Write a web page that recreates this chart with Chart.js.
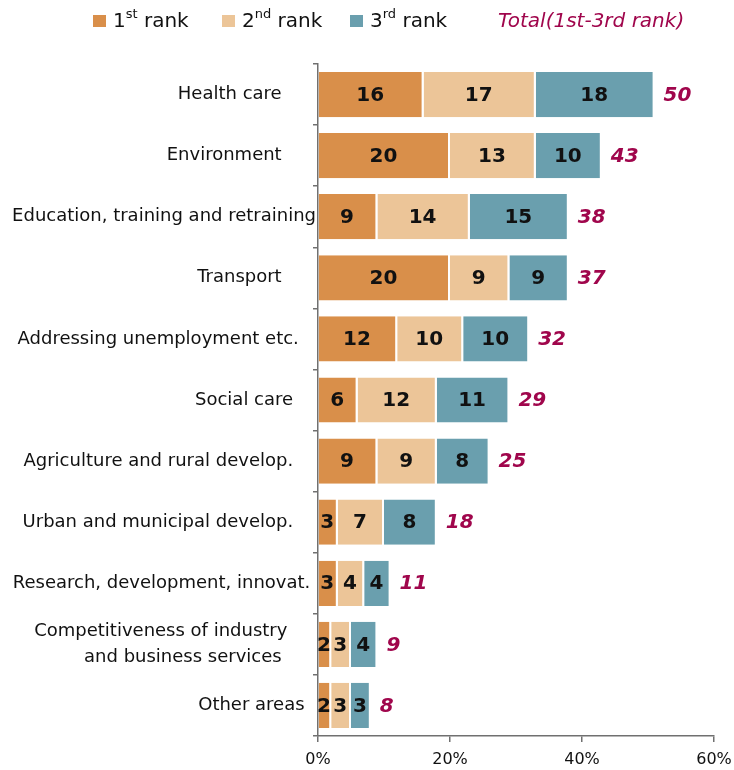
<!DOCTYPE html>
<html>
<head>
<meta charset="utf-8">
<script src="https://cdn.jsdelivr.net/npm/chart.js@4.4.1/dist/chart.umd.min.js"></script>
<style>
  html, body { margin: 0; padding: 0; background: #fff; }
  canvas { display: block; }
</style>
</head>
<body>
<canvas id="ranks" width="734" height="770"></canvas>
<script>
// priority areas, top to bottom
const categories = [
    "Health care",
    "Environment",
    "Education, training and retraining",
    "Transport",
    "Addressing unemployment etc.",
    "Social care",
    "Agriculture and rural develop.",
    "Urban and municipal develop.",
    "Research, development, innovat.",
    ["Competitiveness of industry", "and business services"],
    "Other areas"
];
const rank1 = [16, 20, 9, 20, 12, 6, 9, 3, 3, 2, 2];
const rank2 = [17, 13, 14, 9, 10, 12, 9, 7, 4, 3, 3];
const rank3 = [18, 10, 15, 9, 10, 11, 8, 8, 4, 4, 3];
const totals = [50, 43, 38, 37, 32, 29, 25, 18, 11, 9, 8];
const xTicks = [0, 20, 40, 60];

// trailing spaces per label, so the labels sit like the original worksheet
const labelPad = [6, 6, 0, 6, 3, 4, 4, 4, 1, [5, 6], 2];

const COL1 = '#d98f4a';
const COL2 = '#ecc598';
const COL3 = '#6a9fae';
const TOTAL_COL = '#a0064c';
const AXIS_COL = '#707070';
const FONT = "'DejaVu Sans', Verdana, sans-serif";

function padLabel(i) {
    const lab = categories[i];
    const pad = labelPad[i];
    if (Array.isArray(lab)) {
        return lab.map((line, k) => line + ' '.repeat(pad[k]));
    }
    return lab + ' '.repeat(pad);
}

// legend across the top, with superscript ordinals
const topLegend = {
    id: 'topLegend',
    afterDraw(chart) {
        const ctx = chart.ctx;
        const items = [
            { x: 93, color: COL1, num: '1', sup: 'st' },
            { x: 222, color: COL2, num: '2', sup: 'nd' },
            { x: 350, color: COL3, num: '3', sup: 'rd' }
        ];
        const base = 27;
        ctx.save();
        ctx.textBaseline = 'alphabetic';
        ctx.textAlign = 'left';
        items.forEach(it => {
            ctx.fillStyle = it.color;
            ctx.fillRect(it.x, 15, 13, 12);
            let x = it.x + 20;
            ctx.fillStyle = '#111';
            ctx.font = '20px ' + FONT;
            ctx.fillText(it.num, x, base);
            x += ctx.measureText(it.num).width;
            ctx.font = '13px ' + FONT;
            ctx.fillText(it.sup, x, base - 9);
            x += ctx.measureText(it.sup).width;
            ctx.font = '20px ' + FONT;
            ctx.fillText(' rank', x, base);
        });
        ctx.fillStyle = TOTAL_COL;
        ctx.font = 'italic 20px ' + FONT;
        ctx.fillText('Total(1st-3rd rank)', 498, base);
        ctx.restore();
    }
};

// numbers inside the segments and totals after each stack
const barLabels = {
    id: 'barLabels',
    afterDatasetsDraw(chart) {
        const ctx = chart.ctx;
        ctx.save();
        ctx.textBaseline = 'middle';
        ctx.textAlign = 'center';
        ctx.font = 'bold 20px ' + FONT;
        ctx.fillStyle = '#111';
        chart.data.datasets.forEach((ds, di) => {
            const meta = chart.getDatasetMeta(di);
            meta.data.forEach((el, i) => {
                const cx = (el.x + el.base) / 2 - 1;
                ctx.fillText(String(ds.data[i]), cx, el.y + 1);
            });
        });
        const last = chart.getDatasetMeta(chart.data.datasets.length - 1);
        ctx.textAlign = 'left';
        ctx.font = 'italic bold 20px ' + FONT;
        ctx.fillStyle = TOTAL_COL;
        last.data.forEach((el, i) => {
            ctx.fillText(String(totals[i]), el.x + 9, el.y + 1);
        });
        ctx.restore();
    }
};

const segBorder = { top: 0, right: 2, bottom: 0, left: 0 };

const config = {
    type: 'bar',
    data: {
        labels: categories,
        datasets: [
            { label: '1st rank', data: rank1, backgroundColor: COL1 },
            { label: '2nd rank', data: rank2, backgroundColor: COL2 },
            { label: '3rd rank', data: rank3, backgroundColor: COL3 }
        ].map(d => Object.assign(d, {
            borderColor: '#ffffff',
            borderWidth: segBorder,
            borderSkipped: false,
            barPercentage: 0.74,
            categoryPercentage: 1.0
        }))
    },
    options: {
        indexAxis: 'y',
        responsive: false,
        animation: false,
        devicePixelRatio: 1,
        layout: { padding: { top: 64, right: 20, bottom: 0, left: 0 } },
        plugins: {
            legend: { display: false },
            tooltip: { enabled: false }
        },
        scales: {
            x: {
                stacked: true,
                min: 0,
                max: 60,
                afterBuildTicks(scale) {
                    scale.ticks = xTicks.map(v => ({ value: v }));
                },
                afterFit(scale) {
                    scale.height = 34;
                    scale.paddingLeft = 0;
                    scale.paddingRight = 0;
                },
                ticks: {
                    color: '#111',
                    padding: 8,
                    font: { family: FONT, size: 16 },
                    callback: v => v + '%'
                },
                grid: {
                    drawOnChartArea: false,
                    tickLength: 6,
                    color: AXIS_COL,
                    lineWidth: 1.5
                },
                border: { color: AXIS_COL, width: 1.5 }
            },
            y: {
                stacked: true,
                afterFit(scale) { scale.width = 318; },
                ticks: {
                    color: '#111',
                    padding: -3,
                    font: { family: FONT, size: 18, lineHeight: 1.4 },
                    callback: (v, i) => padLabel(i)
                },
                grid: {
                    offset: true,
                    drawOnChartArea: false,
                    tickLength: 5,
                    color: AXIS_COL,
                    lineWidth: 1.5
                },
                border: { color: AXIS_COL, width: 1.5 }
            }
        }
    },
    plugins: [topLegend, barLabels]
};

new Chart(document.getElementById('ranks'), config);
</script>
</body>
</html>
